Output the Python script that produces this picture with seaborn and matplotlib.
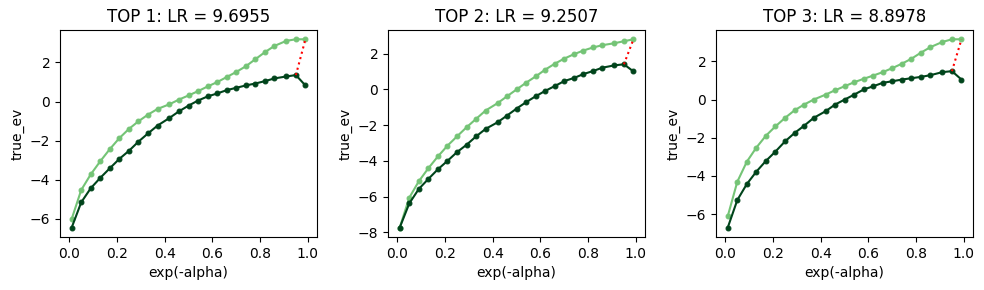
import numpy as np
import pandas as pd
import matplotlib
matplotlib.use("Agg")
import matplotlib.pyplot as plt
import seaborn as sns

# x values: exp(-alpha)
x = [0.01, 0.05, 0.09, 0.13, 0.17, 0.21, 0.25, 0.29, 0.33, 0.37, 0.42, 0.46, 0.50,
     0.54, 0.58, 0.62, 0.66, 0.70, 0.74, 0.78, 0.82, 0.86, 0.91, 0.95, 0.99]

titles = ["TOP 1: LR = 9.6955", "TOP 2: LR = 9.2507", "TOP 3: LR = 8.8978"]

light_1 = [-6.0, -4.52, -3.72, -3.05, -2.43, -1.87, -1.40, -1.01, -0.67, -0.38, -0.14, 0.10, 0.31,
           0.53, 0.77, 0.99, 1.25, 1.51, 1.80, 2.16, 2.52, 2.84, 3.10, 3.18, 3.18]
dark_1 = [-6.44, -5.15, -4.43, -3.90, -3.41, -2.93, -2.52, -2.05, -1.63, -1.23, -0.84, -0.50, -0.21,
          0.05, 0.26, 0.41, 0.58, 0.70, 0.82, 0.92, 1.04, 1.18, 1.28, 1.35, 0.82]

light_2 = [-7.73, -6.06, -5.14, -4.41, -3.75, -3.15, -2.63, -2.12, -1.65, -1.18, -0.77, -0.38, 0.0,
           0.38, 0.73, 1.11, 1.44, 1.73, 1.97, 2.18, 2.35, 2.48, 2.59, 2.70, 2.81]
dark_2 = [-7.73, -6.38, -5.57, -5.01, -4.47, -4.0, -3.51, -3.10, -2.63, -2.21, -1.84, -1.46, -1.07,
          -0.71, -0.38, -0.08, 0.19, 0.47, 0.64, 0.86, 1.03, 1.22, 1.35, 1.41, 1.01]

light_3 = [-6.1, -4.3, -3.25, -2.51, -1.89, -1.40, -0.96, -0.56, -0.26, 0.0, 0.26, 0.49, 0.70,
           0.91, 1.09, 1.26, 1.44, 1.65, 1.88, 2.14, 2.46, 2.75, 3.02, 3.16, 3.16]
dark_3 = [-6.70, -5.26, -4.42, -3.77, -3.21, -2.72, -2.19, -1.75, -1.37, -0.96, -0.61, -0.26, 0.0,
          0.26, 0.53, 0.70, 0.88, 0.96, 1.05, 1.12, 1.19, 1.28, 1.44, 1.49, 1.05]

lights = [light_1, light_2, light_3]
darks = [dark_1, dark_2, dark_3]

light_col = "#74c476"
dark_col = "#00441b"

fig, axes = plt.subplots(1, 3, figsize=(9.84, 2.9), dpi=100)
for i, ax in enumerate(axes):
    df = pd.DataFrame({"exp(-alpha)": x, "light": lights[i], "dark": darks[i]})
    sns.lineplot(data=df, x="exp(-alpha)", y="light", ax=ax, color=light_col,
                 marker="o", markersize=3.5, markeredgecolor=light_col, linewidth=1.5)
    sns.lineplot(data=df, x="exp(-alpha)", y="dark", ax=ax, color=dark_col,
                 marker="o", markersize=3.5, markeredgecolor=dark_col, linewidth=1.5)
    # dotted red link between dark at x[-2] and light at x[-1]
    ax.plot([x[-2], x[-1]], [darks[i][-2], lights[i][-1]], color="red", linestyle=":", linewidth=1.5)
    ax.set_title(titles[i])
    ax.set_xlabel("exp(-alpha)")
    ax.set_ylabel("true_ev")
    ax.set_xticks([0.0, 0.2, 0.4, 0.6, 0.8, 1.0])

plt.subplots_adjust(left=0.061, right=0.989, top=0.897, bottom=0.183, wspace=0.276)
plt.savefig("out.png", dpi=100)
